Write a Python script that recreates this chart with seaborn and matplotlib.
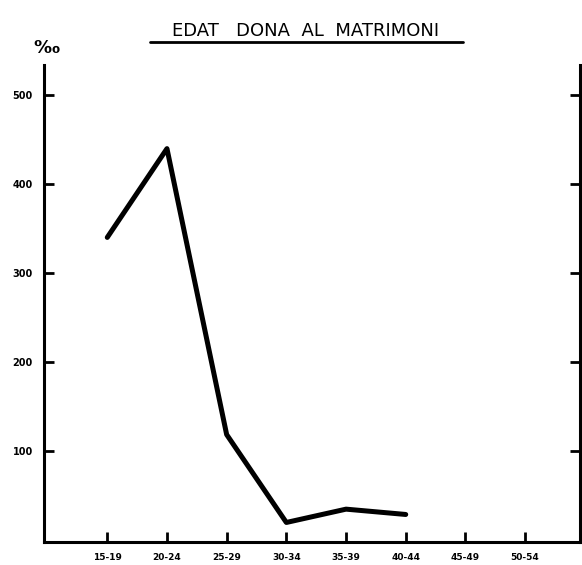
import matplotlib
matplotlib.use("Agg")
import matplotlib.pyplot as plt
import seaborn as sns
import pandas as pd
import numpy as np

# dades llegides del gràfic
grups_edat = ["15-19", "20-24", "25-29", "30-34", "35-39", "40-44", "45-49", "50-54"]
taxa = [340, 440, 118, 19, 34, 28]          # per mil, només fins a 40-44
y_ticks = [100, 200, 300, 400, 500]

sns.set_style("ticks")
plt.rcParams["font.family"] = ["DejaVu Sans"]
plt.rcParams["text.color"] = "black"
plt.rcParams["xtick.labelcolor"] = "black"
plt.rcParams["ytick.labelcolor"] = "black"

df = pd.DataFrame({"pos": np.arange(len(taxa)), "taxa": taxa})

fig = plt.figure(figsize=(5.82, 5.65), dpi=100)
ax = fig.add_axes([0.0756, 0.0407, 0.921, 0.844])

sns.lineplot(data=df, x="pos", y="taxa", ax=ax, color="black", linewidth=3.6)

ax.set_xlim(-1.06, 7.92)
ax.set_ylim(-3, 534)
ax.set_xticks(np.arange(len(grups_edat)))
ax.set_xticklabels(grups_edat, fontsize=6.5, fontweight="bold")
ax.set_yticks(y_ticks)
ax.set_yticklabels([str(v) for v in y_ticks], fontsize=7, fontweight="bold")
ax.set_xlabel("")
ax.set_ylabel("")

ax.tick_params(axis="both", direction="in", length=7, width=2, color="black", pad=8)
ax.tick_params(axis="y", right=True, labelright=False)

for s in ["left", "bottom", "right"]:
    ax.spines[s].set_linewidth(2.2)
    ax.spines[s].set_color("black")
ax.spines["top"].set_visible(False)

fig.text(0.525, 0.946, "EDAT   DONA  AL  MATRIMONI", ha="center", va="center",
         fontsize=13, color="black", family="DejaVu Sans Condensed")
fig.add_artist(plt.Line2D([0.257, 0.795], [0.925, 0.925], color="black", linewidth=2))
fig.text(0.08, 0.915, "‰", ha="center", va="center", fontsize=13,
         fontweight="bold", color="black")

fig.savefig("out.png", dpi=100)
